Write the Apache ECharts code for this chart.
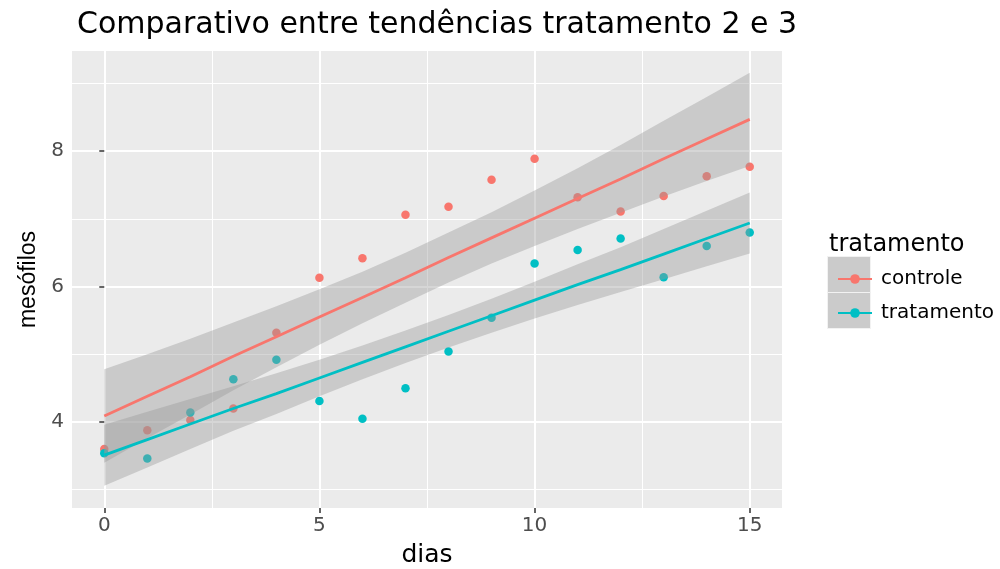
<!DOCTYPE html>
<html>
<head>
<meta charset="utf-8">
<script src="https://cdn.jsdelivr.net/npm/echarts@6/dist/echarts.min.js"></script>
<style>
  html, body { margin: 0; padding: 0; background: #fff; }
  #main { width: 1000px; height: 569px; }
</style>
</head>
<body>
<div id="main"></div>
<script>
var dias = [0, 1, 2, 3, 4, 5, 6, 7, 8, 9, 10, 11, 12, 13, 14, 15];

// observed points
var controlePts = [3.60, 3.88, 4.03, 4.20, 5.32, 6.13, 6.42, 7.06, 7.18, 7.58, 7.89, 7.32, 7.11, 7.34, 7.63, 7.77];
var tratamentoPts = [3.54, 3.46, 4.14, 4.63, 4.92, 4.31, 4.05, 4.50, 5.04, 5.54, 6.34, 6.54, 6.71, 6.14, 6.60, 6.80];

// fitted trend lines and confidence bands
var controleFit = [4.09, 4.38, 4.67, 4.97, 5.26, 5.55, 5.84, 6.13, 6.43, 6.72, 7.01, 7.30, 7.59, 7.89, 8.18, 8.47];
var controleLow = [3.40, 3.76, 4.11, 4.47, 4.81, 5.14, 5.46, 5.76, 6.06, 6.34, 6.60, 6.85, 7.09, 7.33, 7.56, 7.78];
var controleHigh = [4.78, 5.00, 5.23, 5.47, 5.71, 5.96, 6.22, 6.50, 6.80, 7.10, 7.42, 7.75, 8.09, 8.45, 8.80, 9.16];

var tratamentoFit = [3.51, 3.74, 3.97, 4.20, 4.42, 4.65, 4.88, 5.11, 5.34, 5.57, 5.80, 6.03, 6.25, 6.48, 6.71, 6.94];
var tratamentoLow = [3.06, 3.33, 3.60, 3.87, 4.12, 4.38, 4.63, 4.87, 5.10, 5.32, 5.53, 5.73, 5.92, 6.11, 6.30, 6.49];
var tratamentoHigh = [3.96, 4.15, 4.34, 4.53, 4.72, 4.92, 5.13, 5.35, 5.58, 5.82, 6.07, 6.33, 6.58, 6.85, 7.12, 7.39];

var xTicks = [0, 5, 10, 15];
var xMinor = [2.5, 7.5, 12.5];
var yTicks = [4, 6, 8];
var yMinor = [3, 5, 7, 9];

var red = '#F8766D';
var teal = '#00BFC4';
var bandColor = 'rgba(153,153,153,0.4)';
var font = 'DejaVu Sans';

var chartDom = document.getElementById('main');
var myChart = echarts.init(chartDom);

function pairs(ys) {
    return dias.map(function (d, i) { return [d, ys[i]]; });
}

var gridLines = []
    .concat(xTicks.map(function (v) { return { xAxis: v, lineStyle: { width: 2 } }; }))
    .concat(xMinor.map(function (v) { return { xAxis: v, lineStyle: { width: 1 } }; }))
    .concat(yTicks.map(function (v) { return { yAxis: v, lineStyle: { width: 2 } }; }))
    .concat(yMinor.map(function (v) { return { yAxis: v, lineStyle: { width: 1 } }; }));

// confidence ribbon drawn as one polygon through the axis scales
function band(lo, hi) {
    return {
        type: 'custom',
        silent: true,
        z: 2,
        data: dias.map(function (d, i) { return [d, lo[i], hi[i]]; }),
        encode: { x: 0, y: [1, 2] },
        renderItem: function (params, api) {
            if (params.dataIndex !== 0) return;
            var pts = [];
            for (var i = 0; i < dias.length; i++) pts.push(api.coord([dias[i], hi[i]]));
            for (var j = dias.length - 1; j >= 0; j--) pts.push(api.coord([dias[j], lo[j]]));
            return { type: 'polygon', shape: { points: pts }, style: { fill: bandColor } };
        }
    };
}

var option = {
    animation: false,
    textStyle: { fontFamily: font },
    title: [
        {
            text: 'Comparativo entre tendências tratamento 2 e 3',
            left: 72, top: 5,
            textStyle: { fontSize: 30, fontWeight: 'normal', color: '#000', fontFamily: font }
        },
        {
            text: 'tratamento',
            left: 824, top: 228,
            textStyle: { fontSize: 24, fontWeight: 'normal', color: '#000', fontFamily: font }
        }
    ],
    grid: {
        left: 72, top: 51, width: 710, height: 457,
        show: true, backgroundColor: '#EBEBEB', borderWidth: 0,
        outerBoundsMode: 'none', containLabel: false
    },
    xAxis: {
        type: 'value', min: -0.75, max: 15.75,
        name: 'dias', nameLocation: 'middle', nameGap: 35,
        nameTextStyle: { fontSize: 25, color: '#000', fontFamily: font },
        axisLine: { show: false },
        splitLine: { show: false },
        axisTick: { show: true, customValues: xTicks, length: 5, lineStyle: { color: '#333', width: 1.5 } },
        axisLabel: { customValues: xTicks, color: '#4D4D4D', fontSize: 20, margin: 8, fontFamily: font }
    },
    yAxis: {
        type: 'value', min: 2.73, max: 9.48,
        name: 'mesófilos', nameLocation: 'middle', nameGap: 31,
        nameTextStyle: { fontSize: 23, color: '#000', fontFamily: 'Liberation Sans' },
        axisLine: { show: false },
        splitLine: { show: false },
        axisTick: { show: true, customValues: yTicks, length: 5, lineStyle: { color: '#333', width: 1.5 } },
        axisLabel: { customValues: yTicks, color: '#4D4D4D', fontSize: 20, margin: 8, fontFamily: font }
    },
    legend: {
        orient: 'vertical', left: 832, top: 264,
        itemWidth: 34, itemHeight: 12, itemGap: 14,
        textStyle: { fontSize: 20, color: '#000', fontFamily: font, padding: [0, 0, 0, 4] },
        data: ['controle', 'tratamento']
    },
    graphic: [
        { type: 'rect', left: 827, top: 256, shape: { width: 43, height: 36 }, style: { fill: '#CBCBCB', stroke: '#F2F2F2', lineWidth: 1 } },
        { type: 'rect', left: 827, top: 292, shape: { width: 43, height: 36 }, style: { fill: '#CBCBCB', stroke: '#F2F2F2', lineWidth: 1 } }
    ],
    series: [
        {
            type: 'scatter', name: 'controle pts', data: pairs(controlePts),
            symbolSize: 8.5, itemStyle: { color: red, opacity: 1 }, z: 1,
            markLine: {
                silent: true, symbol: ['none', 'none'], z: 0,
                label: { show: false },
                lineStyle: { color: '#fff', type: 'solid' },
                data: gridLines
            }
        },
        {
            type: 'scatter', name: 'tratamento pts', data: pairs(tratamentoPts),
            symbolSize: 8.5, itemStyle: { color: teal, opacity: 1 }, z: 1
        },
        band(controleLow, controleHigh),
        band(tratamentoLow, tratamentoHigh),
        {
            type: 'line', name: 'controle', data: pairs(controleFit),
            symbol: 'circle', symbolSize: 7, showSymbol: false,
            itemStyle: { color: red }, lineStyle: { color: red, width: 2.8 }, z: 3
        },
        {
            type: 'line', name: 'tratamento', data: pairs(tratamentoFit),
            symbol: 'circle', symbolSize: 7, showSymbol: false,
            itemStyle: { color: teal }, lineStyle: { color: teal, width: 2.8 }, z: 3
        }
    ]
};

option && myChart.setOption(option);
</script>
</body>
</html>
